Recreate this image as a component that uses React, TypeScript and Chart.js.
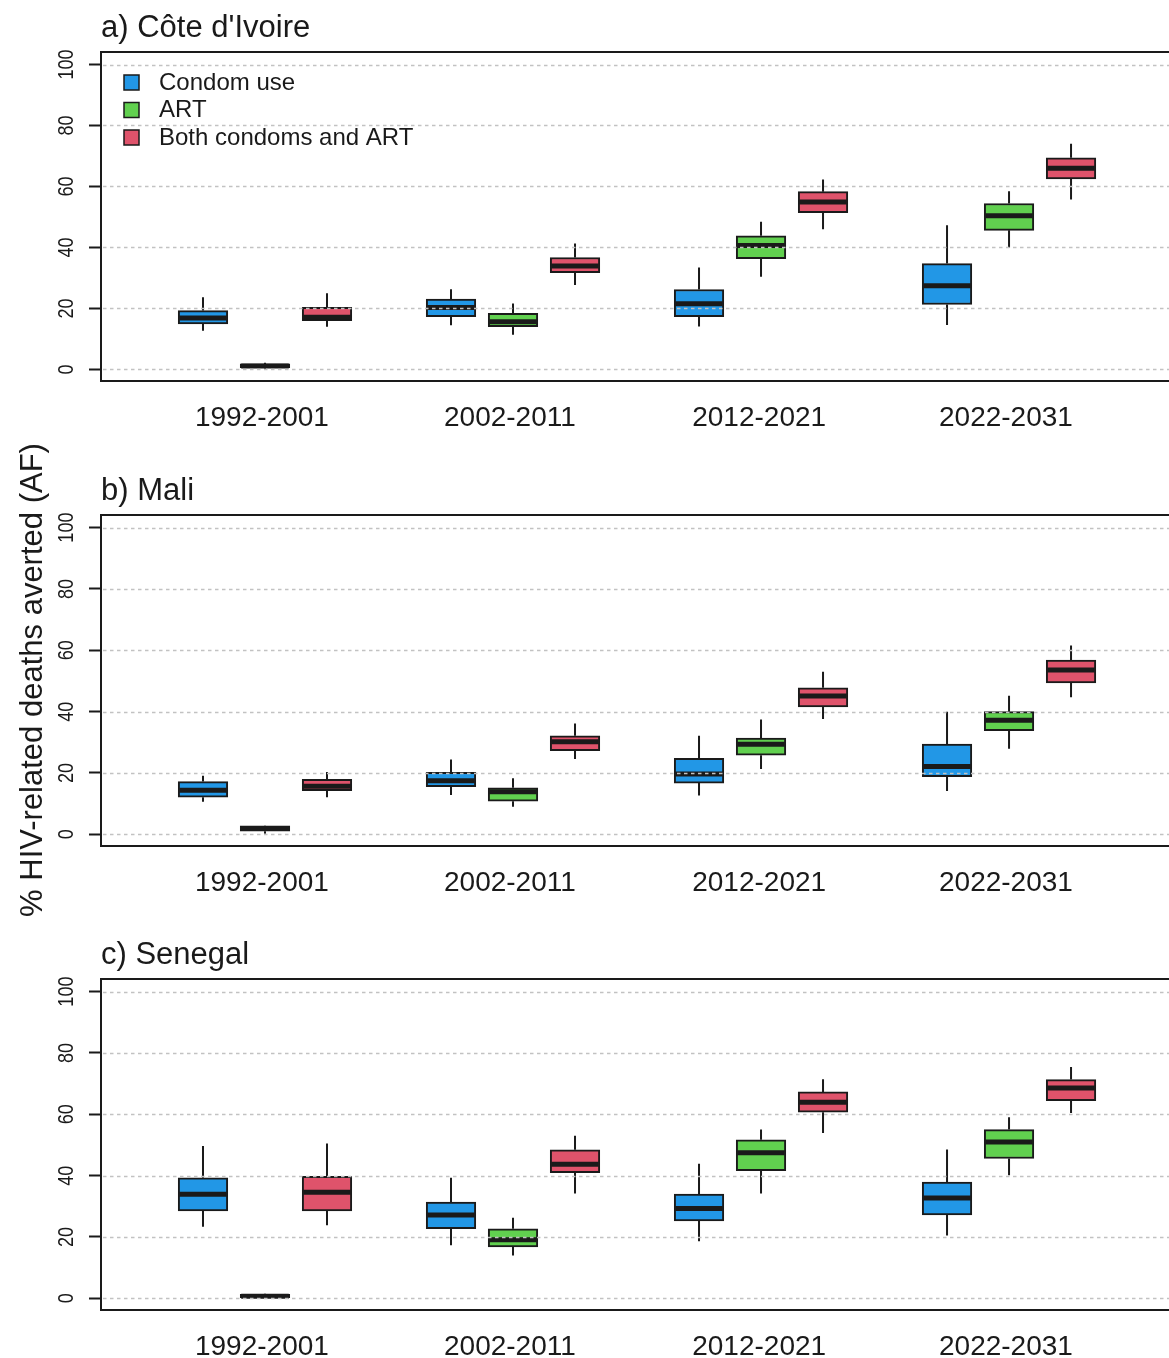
import React, { useEffect, useRef } from "react";
import Chart from "chart.js/auto";

const periods = ["1992-2001", "2002-2011", "2012-2021", "2022-2031"];
const periodTicks = [1.95, 5.95, 9.97, 13.95];
const seriesNames = ["Condom use", "ART", "Both condoms and ART"];
const seriesColors = ["#2297E6", "#61D04F", "#DF536B"];
const panelTitles = ["a) Côte d'Ivoire", "b) Mali", "c) Senegal"];
const yTicks = [0, 20, 40, 60, 80, 100];
const yAxisTitle = "% HIV-related deaths averted (AF)";

// each entry: [whisker low, q1, median, q3, whisker high] per period
const civCondom = [[12.7, 14.9, 16.9, 19.3, 23.7], [14.5, 17.3, 20.3, 23.1, 26.3], [14.1, 17.3, 21.5, 26.2, 33.4], [14.6, 21.3, 27.4, 34.7, 47.3]];
const civArt = [[0.2, 0.6, 1.1, 1.8, 2.2], [11.4, 14.0, 15.6, 18.4, 21.6], [30.4, 36.3, 40.6, 43.8, 48.4], [40.0, 45.6, 50.4, 54.4, 58.4]];
const civBoth = [[14.0, 16.0, 17.1, 20.4, 25.0], [27.7, 31.7, 33.9, 36.7, 41.3], [46.0, 51.4, 54.9, 58.3, 62.3], [55.7, 62.5, 66.0, 69.4, 74.0]];

const maliCondom = [[10.6, 12.1, 14.4, 17.2, 19.1], [12.8, 15.5, 17.5, 20.2, 24.4], [12.7, 16.7, 19.7, 24.8, 32.1], [14.1, 18.8, 22.1, 29.4, 40.0]];
const maliArt = [[0.2, 1.0, 1.9, 2.8, 2.9], [9.0, 10.8, 13.9, 15.2, 18.3], [21.3, 25.8, 29.4, 31.4, 37.4], [27.9, 33.8, 37.2, 40.0, 45.2]];
const maliBoth = [[12.1, 14.2, 15.7, 17.9, 20.3], [24.6, 27.3, 30.2, 32.1, 36.1], [37.6, 41.5, 45.1, 47.8, 53.0], [44.7, 49.4, 53.6, 56.8, 61.6]];

const senCondom = [[23.3, 28.5, 33.9, 39.3, 49.7], [17.3, 22.7, 27.2, 31.4, 39.3], [18.6, 25.2, 29.3, 34.0, 43.9], [20.5, 27.2, 32.7, 37.9, 48.5]];
const senArt = [[0.0, 0.2, 0.7, 1.3, 1.5], [14.0, 16.8, 19.1, 22.7, 26.3], [34.2, 41.6, 47.5, 51.7, 55.0], [40.1, 45.6, 51.0, 55.0, 59.0]];
const senBoth = [[23.8, 28.5, 34.6, 39.8, 50.5], [34.2, 41.0, 43.7, 48.4, 53.0], [53.9, 60.7, 63.9, 67.3, 71.4], [60.4, 64.4, 68.6, 71.3, 75.4]];

const panels = [
  [civCondom, civArt, civBoth],
  [maliCondom, maliArt, maliBoth],
  [senCondom, senArt, senBoth],
];

// layout
const W = 1169;
const H = 1358;
const FRAME_TOP = [52, 515, 979];
const FRAME_BOTTOM = [381, 846, 1310];
const XAXIS_H = 45;
const Y_AXIS_W = 101;
const FONT = "'Liberation Sans', Arial, Helvetica, sans-serif";
const INK = "#1a1a1a";

const posOf = (pi: number, si: number) => pi * 4 + si + 1;

function makePlugin(index: number) {
  return {
    id: "boxExtras" + index,
    afterDatasetsDraw(chart: any) {
      const { ctx, chartArea, scales } = chart;
      const x = scales.x;
      const y = scales.y;
      const series = panels[index];
      ctx.save();
      ctx.beginPath();
      ctx.rect(chartArea.left, chartArea.top, chartArea.right - chartArea.left, chartArea.bottom - chartArea.top);
      ctx.clip();
      series.forEach((s, si) => {
        const meta = chart.getDatasetMeta(si);
        s.forEach((b, pi) => {
          const cx = x.getPixelForValue(posOf(pi, si));
          const el = meta.data[pi];
          const half = (el && el.width ? el.width : 49.6) / 2;
          // whiskers
          ctx.strokeStyle = INK;
          ctx.lineWidth = 2;
          ctx.setLineDash([]);
          ctx.beginPath();
          ctx.moveTo(cx, y.getPixelForValue(b[3]));
          ctx.lineTo(cx, y.getPixelForValue(b[4]));
          ctx.moveTo(cx, y.getPixelForValue(b[1]));
          ctx.lineTo(cx, y.getPixelForValue(b[0]));
          ctx.stroke();
          // median
          ctx.lineWidth = 5;
          ctx.lineCap = "butt";
          ctx.beginPath();
          const my = y.getPixelForValue(b[2]);
          ctx.moveTo(cx - half + 1, my);
          ctx.lineTo(cx + half - 1, my);
          ctx.stroke();
        });
      });
      // dashed grid lines on top
      ctx.strokeStyle = "#c2c2c2";
      ctx.lineWidth = 1.6;
      ctx.setLineDash([3.5, 3.5]);
      yTicks.forEach((v) => {
        const py = Math.round(y.getPixelForValue(v)) + 0.5;
        ctx.beginPath();
        ctx.moveTo(chartArea.left + 2, py);
        ctx.lineTo(chartArea.right, py);
        ctx.stroke();
      });
      ctx.restore();
    },
    afterDraw(chart: any) {
      const { ctx, chartArea, scales } = chart;
      const y = scales.y;
      ctx.save();
      // frame (right edge lies outside the picture)
      ctx.strokeStyle = INK;
      ctx.lineWidth = 2;
      ctx.setLineDash([]);
      ctx.strokeRect(chartArea.left, chartArea.top, 1173 - chartArea.left, chartArea.bottom - chartArea.top);

      // rotated y tick labels
      ctx.fillStyle = INK;
      ctx.font = `22px ${FONT}`;
      ctx.textAlign = "center";
      ctx.textBaseline = "alphabetic";
      yTicks.forEach((v) => {
        const py = y.getPixelForValue(v);
        ctx.save();
        ctx.translate(73, py);
        ctx.rotate(-Math.PI / 2);
        ctx.scale(0.82, 1);
        ctx.fillText(String(v), 0, 0);
        ctx.restore();
      });

      // panel title
      ctx.font = `31px ${FONT}`;
      ctx.textAlign = "left";
      ctx.fillText(panelTitles[index], chartArea.left, chartArea.top - 15);

      if (index === 0) {
        // legend
        const rows = [82, 109.5, 137];
        ctx.font = `24px ${FONT}`;
        ctx.textBaseline = "middle";
        seriesNames.forEach((name, si) => {
          const cy = rows[si];
          ctx.fillStyle = seriesColors[si];
          ctx.fillRect(124, cy - 7, 15, 15);
          ctx.strokeStyle = INK;
          ctx.lineWidth = 1.5;
          ctx.strokeRect(124, cy - 7, 15, 15);
          ctx.fillStyle = INK;
          ctx.fillText(name, 159, cy + 1);
        });
      }
      if (index === 1) {
        ctx.save();
        ctx.font = `31px ${FONT}`;
        ctx.fillStyle = INK;
        ctx.textAlign = "center";
        ctx.textBaseline = "alphabetic";
        ctx.translate(42, 680);
        ctx.rotate(-Math.PI / 2);
        ctx.fillText(yAxisTitle, 0, 0);
        ctx.restore();
      }
      ctx.restore();
    },
  };
}

function Panel({ index }: { index: number }) {
  const ref = useRef<HTMLCanvasElement | null>(null);
  useEffect(() => {
    if (!ref.current) return;
    const series = panels[index];
    const datasets = series.map((s, si) => ({
      label: seriesNames[si],
      data: s.map((b, pi) => ({ x: posOf(pi, si), y: [b[1], b[3]] })),
      backgroundColor: seriesColors[si],
      borderColor: INK,
      borderWidth: 2,
      borderSkipped: false,
      barThickness: 49.6,
      grouped: false,
    }));
    const top = FRAME_TOP[index];
    const bottom = FRAME_BOTTOM[index];
    const chart = new Chart(ref.current, {
      type: "bar",
      data: { datasets } as any,
      options: {
        animation: false,
        responsive: false,
        maintainAspectRatio: false,
        devicePixelRatio: 1,
        layout: { padding: { top, bottom: H - bottom - XAXIS_H, left: 0, right: 0 } },
        plugins: { legend: { display: false }, tooltip: { enabled: false } },
        scales: {
          x: {
            type: "linear",
            min: -0.645,
            max: 16.58,
            offset: false,
            afterBuildTicks: (s: any) => {
              s.ticks = periodTicks.map((v) => ({ value: v }));
            },
            afterFit: (s: any) => {
              s.height = XAXIS_H;
            },
            grid: { display: false },
            border: { display: false },
            ticks: {
              autoSkip: false,
              maxRotation: 0,
              minRotation: 0,
              padding: 12,
              color: INK,
              font: { family: FONT, size: 28 },
              callback: (v: any) => {
                const i = periodTicks.indexOf(Number(v));
                return i >= 0 ? periods[i] : "";
              },
            },
          },
          y: {
            type: "linear",
            min: -3.8,
            max: 104.1,
            afterBuildTicks: (s: any) => {
              s.ticks = yTicks.map((v) => ({ value: v }));
            },
            afterFit: (s: any) => {
              s.width = Y_AXIS_W;
            },
            grid: {
              display: true,
              drawOnChartArea: false,
              drawTicks: true,
              tickLength: 12,
              tickColor: INK,
              tickWidth: 2,
            },
            border: { display: false },
            ticks: { display: false },
          },
        },
      } as any,
      plugins: [makePlugin(index)],
    });
    return () => chart.destroy();
  }, [index]);
  return (
    <canvas
      ref={ref}
      width={W}
      height={H}
      style={{ position: "absolute", left: 0, top: 0, width: W, height: H }}
    />
  );
}

export default function App() {
  return (
    <div
      style={{
        position: "fixed",
        left: 0,
        top: 0,
        width: W,
        height: H,
        overflow: "hidden",
        background: "#ffffff",
      }}
    >
      <Panel index={0} />
      <Panel index={1} />
      <Panel index={2} />
    </div>
  );
}
